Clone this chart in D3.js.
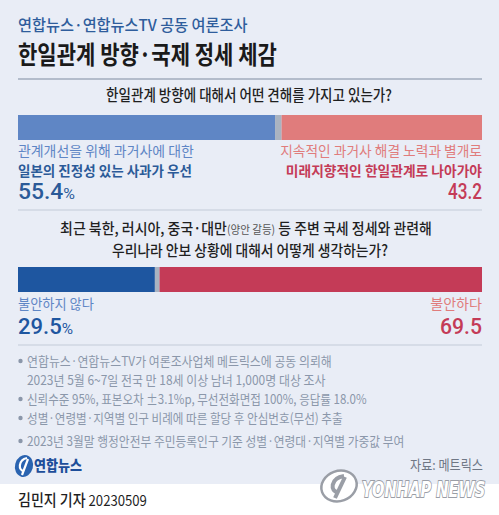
<!DOCTYPE html>
<html><head><meta charset="utf-8">
<script src="https://cdn.jsdelivr.net/npm/d3@7"></script>
<style>
html,body{margin:0;padding:0;background:#fff;}
svg{display:block;}
text{font-family:"Noto Sans CJK KR","Noto Sans",sans-serif;}
</style></head><body>
<svg id="c" width="499" height="515"></svg>
<script>
// ---- data ----
const q1Categories = ["관계개선을 위해 과거사에 대한 일본의 진정성 있는 사과가 우선", "모름/무응답", "지속적인 과거사 해결 노력과 별개로 미래지향적인 한일관계로 나아가야"];
const q1Values = [55.4, 1.4, 43.2];
const q2Categories = ["불안하지 않다", "모름/무응답", "불안하다"];
const q2Values = [29.5, 1.0, 69.5];
const notes = [
  ["연합뉴스·연합뉴스TV가 여론조사업체 메트릭스에 공동 의뢰해", "2023년 5월 6~7일 전국 만 18세 이상 남녀 1,000명 대상 조사"],
  ["신뢰수준 95%, 표본오차 ±3.1%p, 무선전화면접 100%, 응답률 18.0%"],
  ["성별·연령별·지역별 인구 비례에 따른 할당 후 안심번호(무선) 추출"],
  ["2023년 3월말 행정안전부 주민등록인구 기준 성별·연령대·지역별 가중값 부여"]
];

const svg = d3.select("#c");
const W = 499, H = 515;
const x = d3.scaleLinear().domain([0, 100]).range([18, 482]);

// background panel
svg.append("rect").attr("x",0).attr("y",0).attr("width",W).attr("height",H).attr("fill","#ffffff");
svg.append("rect").attr("x",0).attr("y",0).attr("width",W).attr("height",484).attr("fill","#e9edf6");

// text helper
function txt(o){
  const t = svg.append("text")
    .attr("x",0).attr("y",0)
    .attr("text-anchor", o.anchor||"start")
    .style("font-size",(o.size||14)+"px")
    .style("font-weight",o.weight||400)
    .attr("fill",o.color||"#222");
  if(o.family) t.style("font-family",o.family);
  (o.parts||[{t:o.t}]).forEach(p=>{
    const s = t.append("tspan").text(p.t);
    if(p.size) s.style("font-size",p.size+"px");
    if(p.weight) s.style("font-weight",p.weight);
    if(p.color) s.attr("fill",p.color);
    if(p.family) s.style("font-family",p.family);
  });
  let k = 1;
  if(o.width){ const bw = t.node().getBBox().width; if(bw>0) k = o.width/bw; }
  t.attr("transform",`translate(${o.x},${o.y}) scale(${k},1)`);
  return t;
}

// header
txt({x:18,y:31,t:"연합뉴스·연합뉴스TV 공동 여론조사",size:16,weight:500,color:"#2f5d9c",width:230});
txt({x:18,y:64,t:"한일관계 방향·국제 정세 체감",size:25,weight:700,color:"#1a1a1a",width:259});
const sep = [79, 210, 345];
svg.selectAll("line.sep").data(sep).enter().append("line")
  .attr("x1",18).attr("x2",482).attr("y1",d=>d).attr("y2",d=>d)
  .attr("stroke",d=>d===79?"#b3bccb":"#c3cbd8").attr("stroke-width",d=>d===79?2:1.2);

// stacked bar helper
function stack(values){
  let acc = 0;
  return values.map(v=>{const s={x0:acc,x1:acc+v,v}; acc+=v; return s;});
}
const q1Colors = ["#5f86c5","#a9b3c1","#e07c7c"];
const q2Colors = ["#1e56a0","#a9b3c1","#c43b57"];

svg.append("g").selectAll("rect").data(stack(q1Values)).enter().append("rect")
  .attr("x",d=>x(d.x0)).attr("width",d=>x(d.x1)-x(d.x0))
  .attr("y",115).attr("height",25).attr("fill",(d,i)=>q1Colors[i]);
svg.append("g").selectAll("rect").data(stack(q2Values)).enter().append("rect")
  .attr("x",d=>x(d.x0)).attr("width",d=>x(d.x1)-x(d.x0))
  .attr("y",267).attr("height",25).attr("fill",(d,i)=>q2Colors[i]);

// Q1
txt({x:249,y:101,anchor:"middle",t:"한일관계 방향에 대해서 어떤 견해를 가지고 있는가?",size:15.5,weight:500,color:"#1f1f1f",width:286});
txt({x:18,y:156,t:"관계개선을 위해 과거사에 대한",size:13.5,weight:400,color:"#5f86c5",width:176});
txt({x:18,y:175.5,t:"일본의 진정성 있는 사과가 우선",size:13.5,weight:700,color:"#2b5a98",width:174});
txt({x:18,y:199,parts:[{t:String(q1Values[0]),family:"Roboto",weight:500},{t:"%",size:15,weight:400,family:"Roboto"}],size:21.5,color:"#2b5a98",width:57});
txt({x:482,y:156,anchor:"end",t:"지속적인 과거사 해결 노력과 별개로",size:13.5,weight:400,color:"#e07c7c",width:202});
txt({x:482,y:175.5,anchor:"end",t:"미래지향적인 한일관계로 나아가야",size:13.5,weight:700,color:"#c43b57",width:197});
txt({x:482,y:199,anchor:"end",parts:[{t:String(q1Values[2]),family:"Roboto",weight:500}],size:21.5,color:"#c43b57",width:34});

// Q2
txt({x:246,y:234,anchor:"middle",parts:[{t:"최근 북한, 러시아, 중국·대만"},{t:"(양안 갈등)",size:11.5,weight:400,color:"#555"},{t:" 등 주변 국세 정세와 관련해"}],size:15.2,weight:500,color:"#1f1f1f",width:372});
txt({x:250,y:256,anchor:"middle",t:"우리나라 안보 상황에 대해서 어떻게 생각하는가?",size:15.2,weight:500,color:"#1f1f1f",width:276});
txt({x:18,y:309,t:q2Categories[0],size:14,weight:400,color:"#5f86c5",width:76});
txt({x:18,y:333.5,parts:[{t:String(q2Values[0]),family:"Roboto",weight:500},{t:"%",size:15,weight:400,family:"Roboto"}],size:21.5,color:"#1e56a0",width:55});
txt({x:482,y:309,anchor:"end",t:q2Categories[2],size:14,weight:400,color:"#e07c7c",width:52});
txt({x:482,y:333.5,anchor:"end",parts:[{t:String(q2Values[2]),family:"Roboto",weight:500}],size:21.5,color:"#c43b57",width:42});

// notes
const noteWidths = [[305,299],[340],[316],[378]];
const noteY0 = [366, 404, 423, 446];
const noteColor = "#8b97aa";
notes.forEach((lines,i)=>{
  svg.append("circle").attr("cx",20.5).attr("cy",noteY0[i]-5).attr("r",2.2).attr("fill",noteColor);
  lines.forEach((l,j)=>{
    txt({x:27,y:noteY0[i]+j*19,t:l,size:13,weight:400,color:noteColor,width:noteWidths[i][j]});
  });
});

// logo bottom-left
const lg = svg.append("g").attr("transform","translate(24,466)");
lg.append("ellipse").attr("rx",9).attr("ry",11).attr("fill","#2a63b0").attr("transform","rotate(15)");
lg.append("path").attr("d","M3,-8 C-6,-6 -6,5 0,5 M4,-7 L-2,9").attr("stroke","#fff").attr("stroke-width",2.2).attr("fill","none");
txt({x:34,y:471,t:"연합뉴스",size:14.5,weight:900,color:"#1d4e9a",width:48});

// source
txt({x:483,y:470,anchor:"end",t:"자료: 메트릭스",size:13.5,weight:400,color:"#6f7785",width:73});

// watermark
const wm = svg.append("g").attr("transform","translate(339,486)");
wm.append("ellipse").attr("rx",18).attr("ry",15).attr("fill","#fff").attr("stroke","#9a9ea6").attr("stroke-width",2.5).attr("transform","rotate(-20)");
wm.append("path").attr("d","M5,-10 C-9,-8 -9,6 -1,6 M6,-9 L-4,12").attr("stroke","#9a9ea6").attr("stroke-width",4).attr("fill","none");
txt({x:362,y:497,t:"YONHAP NEWS",size:21,weight:900,family:"'DejaVu Sans',sans-serif",color:"#ffffff",width:124})
  .style("font-style","italic").attr("stroke","#9a9ea6").attr("stroke-width",2).attr("paint-order","stroke");

// byline
txt({x:18,y:506,parts:[{t:"김민지 기자",weight:500},{t:"  20230509",weight:400,size:15}],size:16,color:"#1f1f1f",width:129});
</script>
</body></html>
